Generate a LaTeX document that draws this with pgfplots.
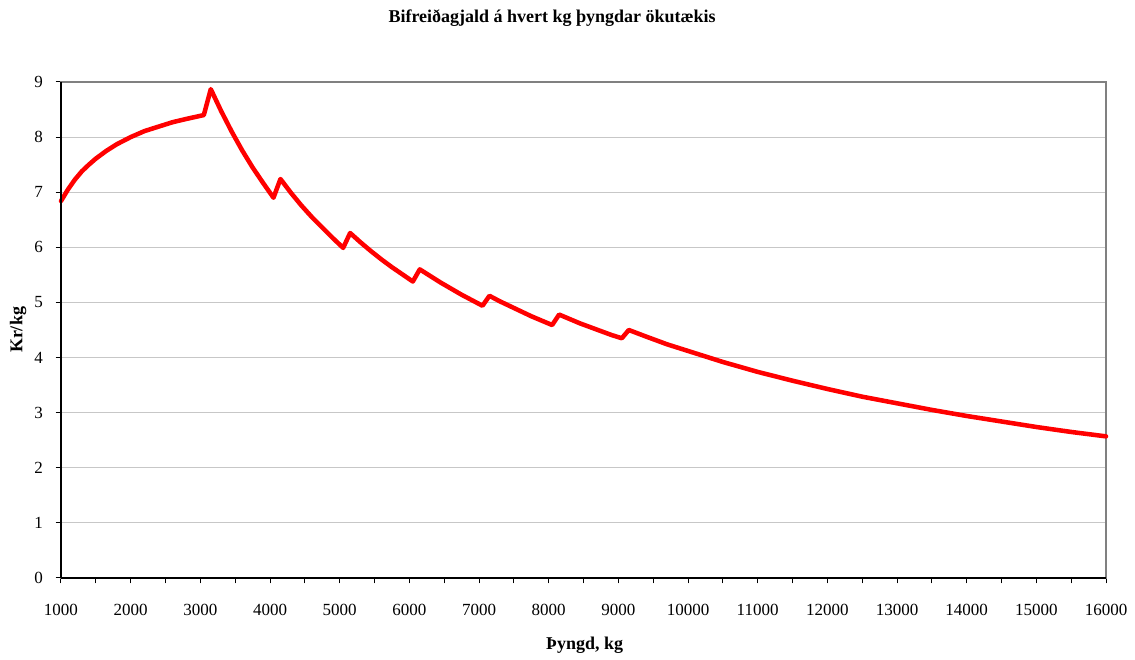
\documentclass[border=0pt]{standalone}
\usepackage{fontspec}
\setmainfont{Liberation Serif}
\usepackage{pgfplots}
\pgfplotsset{compat=1.18}

% 1 px of the reference = 0.75pt
\begin{document}
\begin{tikzpicture}
\begin{axis}[
    scale only axis,
    width=783.75pt, height=372pt,
    xmin=1000, xmax=16000,
    ymin=0, ymax=9,
    xtick={1000,2000,...,16000},
    ytick={0,1,...,9},
    scaled x ticks=false,
    minor x tick num=1,
    tick align=outside,
    major tick length=4pt,
    minor tick length=4pt,
    xtick pos=bottom, ytick pos=left,
    tick style={black, line width=0.75pt},
    ymajorgrids,
    major grid style={draw=black!22, line width=0.75pt},
    axis line style={draw=black!50, line width=1pt},
    /pgf/number format/1000 sep={},
    /pgf/number format/assume math mode=true,
    tick label style={font=\fontsize{12.75}{15}\selectfont},
    xticklabel style={yshift=-12pt},
    yticklabel style={xshift=-6pt},
    every axis title shift=0pt,
    title={Bifreiðagjald á hvert kg þyngdar ökutækis},
    title style={at={(axis description cs:0.47,1.129)}, anchor=center,
        font=\fontsize{13.5}{16}\selectfont\bfseries},
    xlabel={Þyngd, kg},
    xlabel style={at={(axis description cs:0.501,-0.135)}, anchor=center,
        font=\fontsize{13.5}{16}\selectfont\bfseries},
    ylabel={Kr/kg},
    ylabel style={at={(axis description cs:-0.041,0.5)}, anchor=center,
        font=\fontsize{13.5}{16}\selectfont\bfseries},
    clip=false,
]
\addplot[red, line width=3.4pt, line join=round, line cap=round] coordinates {
    (1000,6.84) (1100,7.05) (1200,7.23) (1300,7.38) (1400,7.50) (1500,7.61)
    (1650,7.75) (1800,7.87) (2000,8.00) (2200,8.11) (2400,8.19)
    (2600,8.27) (2800,8.33) (3050,8.40)
    (3150,8.87) (3300,8.47) (3450,8.10) (3600,7.76) (3750,7.45)
    (3900,7.17) (4050,6.90)
    (4150,7.24) (4300,6.99) (4450,6.76) (4600,6.55) (4750,6.36)
    (4900,6.17) (5050,5.99)
    (5150,6.26) (5300,6.09) (5450,5.93) (5600,5.78) (5750,5.64)
    (5900,5.51) (6050,5.38)
    (6150,5.60) (6300,5.48) (6450,5.36) (6600,5.25) (6750,5.14)
    (6900,5.04) (7050,4.94)
    (7150,5.12) (7300,5.02) (7450,4.93) (7600,4.84) (7750,4.75)
    (7900,4.67) (8050,4.59)
    (8150,4.78) (8300,4.70) (8450,4.62) (8600,4.55) (8750,4.48)
    (8900,4.41) (9050,4.35)
    (9150,4.50) (9400,4.38) (9700,4.24) (10000,4.12) (10500,3.92)
    (11000,3.74) (11500,3.58) (12000,3.43) (12500,3.29) (13000,3.17)
    (13500,3.05) (14000,2.94) (14500,2.84) (15000,2.74) (15500,2.65)
    (16000,2.57)
};
\draw[black, line width=1pt] (rel axis cs:0,0) -- (rel axis cs:1,0);
\draw[black, line width=1pt] (rel axis cs:0,0) -- (rel axis cs:0,1);
\end{axis}
\pgfresetboundingbox
\path (-45.75pt,-61.5pt) rectangle (805.5pt,433.5pt);
\end{tikzpicture}
\end{document}
